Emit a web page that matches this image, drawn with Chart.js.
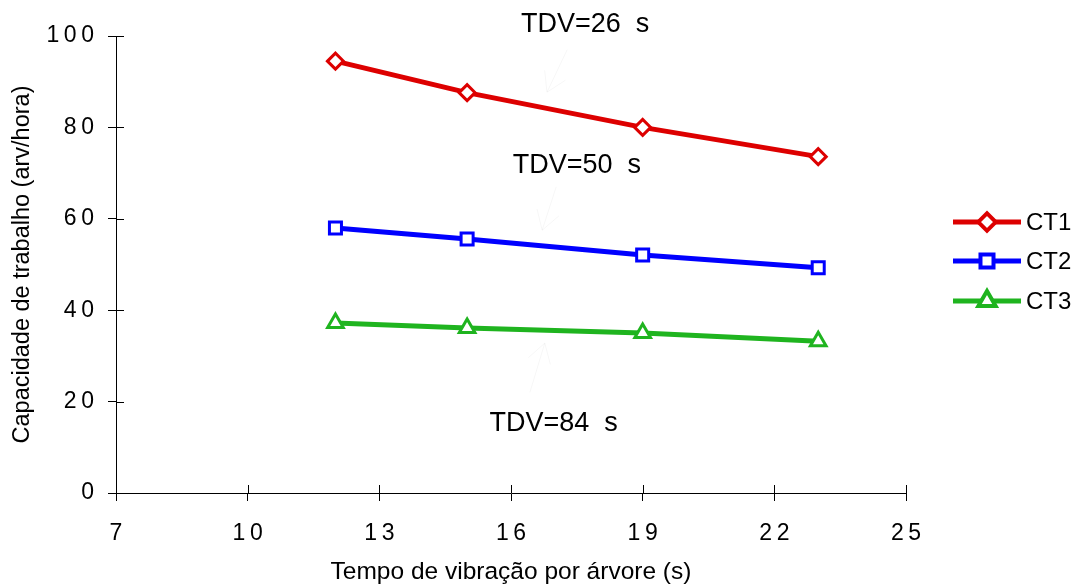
<!DOCTYPE html>
<html>
<head>
<meta charset="utf-8">
<script src="https://cdn.jsdelivr.net/npm/chart.js@4/dist/chart.umd.min.js"></script>
<style>
  html, body { margin: 0; padding: 0; background: #ffffff; }
  #wrap { width: 1077px; height: 584px; position: relative; }
</style>
</head>
<body>
<div id="wrap"><canvas id="c"></canvas></div>
<script>
// ---- Data ----
const xValues = [12, 15, 19, 23];
const ct1 = [94.5, 87.6, 80.0, 73.6];
const ct2 = [58.0, 55.6, 52.1, 49.3];
const ct3 = [37.2, 36.1, 35.0, 33.2];
const seriesLabels = ['CT1', 'CT2', 'CT3'];
const xTitle = 'Tempo de vibração por árvore (s)';
const yTitle = 'Capacidade de trabalho (arv/hora)';
const annotationTexts = ['TDV=26 s', 'TDV=50 s', 'TDV=84 s'];
const annotationX = [17.69, 17.5, 16.97];
const annotationY = [102.4, 71.6, 15.2];
// faint arrows: [tailX, tailY, tipX, tipY] in data units
const arrows = [
  [17.28, 97.0, 16.82, 87.7],
  [17.03, 67.0, 16.71, 57.5],
  [16.43, 22.0, 16.77, 32.8]
];

const colors = ['#dd0000', '#0000ff', '#1fb41f'];
const styles = ['rectRot', 'rect', 'triangle'];
const radii = [8, 8.5, 9];
const FONT = "'Liberation Sans', Arial, sans-serif";

function pts(ys) { return xValues.map((x, i) => ({ x: x, y: ys[i] })); }
function spaced(v) { return String(v).split('').join('\u2009'); }

const extras = {
  id: 'extras',
  afterDraw(chart) {
    const ctx = chart.ctx;
    const xs = chart.scales.x, ys = chart.scales.y;
    const area = chart.chartArea;
    ctx.save();
    // inner tick halves (ticks cross the axes)
    ctx.strokeStyle = '#000';
    ctx.lineWidth = 1;
    ctx.beginPath();
    xs.ticks.forEach(t => {
      const px = Math.round(xs.getPixelForValue(t.value)) + 0.5;
      ctx.moveTo(px, area.bottom); ctx.lineTo(px, area.bottom - 8);
    });
    ys.ticks.forEach(t => {
      const py = Math.round(ys.getPixelForValue(t.value)) + 0.5;
      ctx.moveTo(area.left, py); ctx.lineTo(area.left + 8, py);
    });
    ctx.stroke();

    // very faint arrows
    ctx.strokeStyle = 'rgba(0,0,0,0.035)';
    ctx.lineWidth = 1;
    arrows.forEach(a => {
      const x1 = xs.getPixelForValue(a[0]), y1 = ys.getPixelForValue(a[1]);
      const x2 = xs.getPixelForValue(a[2]), y2 = ys.getPixelForValue(a[3]);
      const ang = Math.atan2(y2 - y1, x2 - x1);
      const L = 22, spread = 0.55;
      ctx.beginPath();
      ctx.moveTo(x1, y1); ctx.lineTo(x2, y2);
      ctx.moveTo(x2, y2); ctx.lineTo(x2 - L * Math.cos(ang - spread), y2 - L * Math.sin(ang - spread));
      ctx.moveTo(x2, y2); ctx.lineTo(x2 - L * Math.cos(ang + spread), y2 - L * Math.sin(ang + spread));
      ctx.stroke();
    });

    // annotation texts
    ctx.fillStyle = '#000';
    ctx.font = '27px ' + FONT;
    ctx.textAlign = 'center';
    ctx.textBaseline = 'middle';
    annotationTexts.forEach((t, i) => {
      ctx.fillText(t.replace(' ', '  '), xs.getPixelForValue(annotationX[i]), ys.getPixelForValue(annotationY[i]));
    });

    // legend
    const rowY = [222, 261, 301];
    chart.data.datasets.forEach((ds, i) => {
      const y = rowY[i];
      ctx.strokeStyle = ds.borderColor;
      ctx.lineWidth = ds.borderWidth;
      ctx.beginPath();
      ctx.moveTo(953, y); ctx.lineTo(1021, y);
      ctx.stroke();
      ctx.fillStyle = '#fff';
      Chart.helpers.drawPoint(ctx, {
        pointStyle: ds.pointStyle, radius: ds.pointRadius, rotation: 0, borderWidth: ds.pointBorderWidth
      }, 987, y);
      ctx.strokeStyle = ds.borderColor;
      ctx.lineWidth = ds.pointBorderWidth;
      ctx.fill();
      ctx.stroke();
      ctx.fillStyle = '#000';
      ctx.font = '24px ' + FONT;
      ctx.textAlign = 'left';
      ctx.textBaseline = 'middle';
      ctx.fillText(ds.label, 1026, y + 1);
    });
    ctx.restore();
  }
};

const datasets = [ct1, ct2, ct3].map((d, i) => ({
  label: seriesLabels[i],
  data: pts(d),
  borderColor: colors[i],
  backgroundColor: colors[i],
  borderWidth: 5,
  pointStyle: styles[i],
  pointRadius: radii[i],
  pointHoverRadius: radii[i],
  pointBackgroundColor: '#ffffff',
  pointBorderColor: colors[i],
  pointBorderWidth: 3,
  tension: 0,
  fill: false
}));

new Chart(document.getElementById('c'), {
  type: 'line',
  data: { datasets: datasets },
  options: {
    responsive: true,
    maintainAspectRatio: false,
    animation: false,
    events: [],
    layout: { padding: { top: 36, right: 171, left: 0, bottom: 0 } },
    plugins: { legend: { display: false }, tooltip: { enabled: false } },
    scales: {
      x: {
        type: 'linear',
        min: 7, max: 25,
        afterFit: s => { s.height = 91; },
        ticks: { stepSize: 3, color: '#000', font: { family: FONT, size: 23 }, padding: 19,
                 callback: v => spaced(v), maxRotation: 0, autoSkip: false },
        grid: { display: true, drawOnChartArea: false, drawTicks: true, tickLength: 8, color: '#000', lineWidth: 1 },
        border: { display: true, color: '#000', width: 1 },
        title: { display: true, text: xTitle, color: '#000', font: { family: FONT, size: 24.5 }, padding: { top: 0, bottom: -3 } }
      },
      y: {
        type: 'linear',
        min: 0, max: 100,
        afterFit: s => { s.width = 116; },
        ticks: { stepSize: 20, color: '#000', font: { family: FONT, size: 23 }, padding: 14,
                 callback: v => spaced(v) },
        grid: { display: true, drawOnChartArea: false, drawTicks: true, tickLength: 8, color: '#000', lineWidth: 1 },
        border: { display: true, color: '#000', width: 1 },
        title: { display: true, text: yTitle, color: '#000', font: { family: FONT, size: 23.5 }, padding: { top: 8, bottom: 0 } }
      }
    }
  },
  plugins: [extras]
});
</script>
</body>
</html>
